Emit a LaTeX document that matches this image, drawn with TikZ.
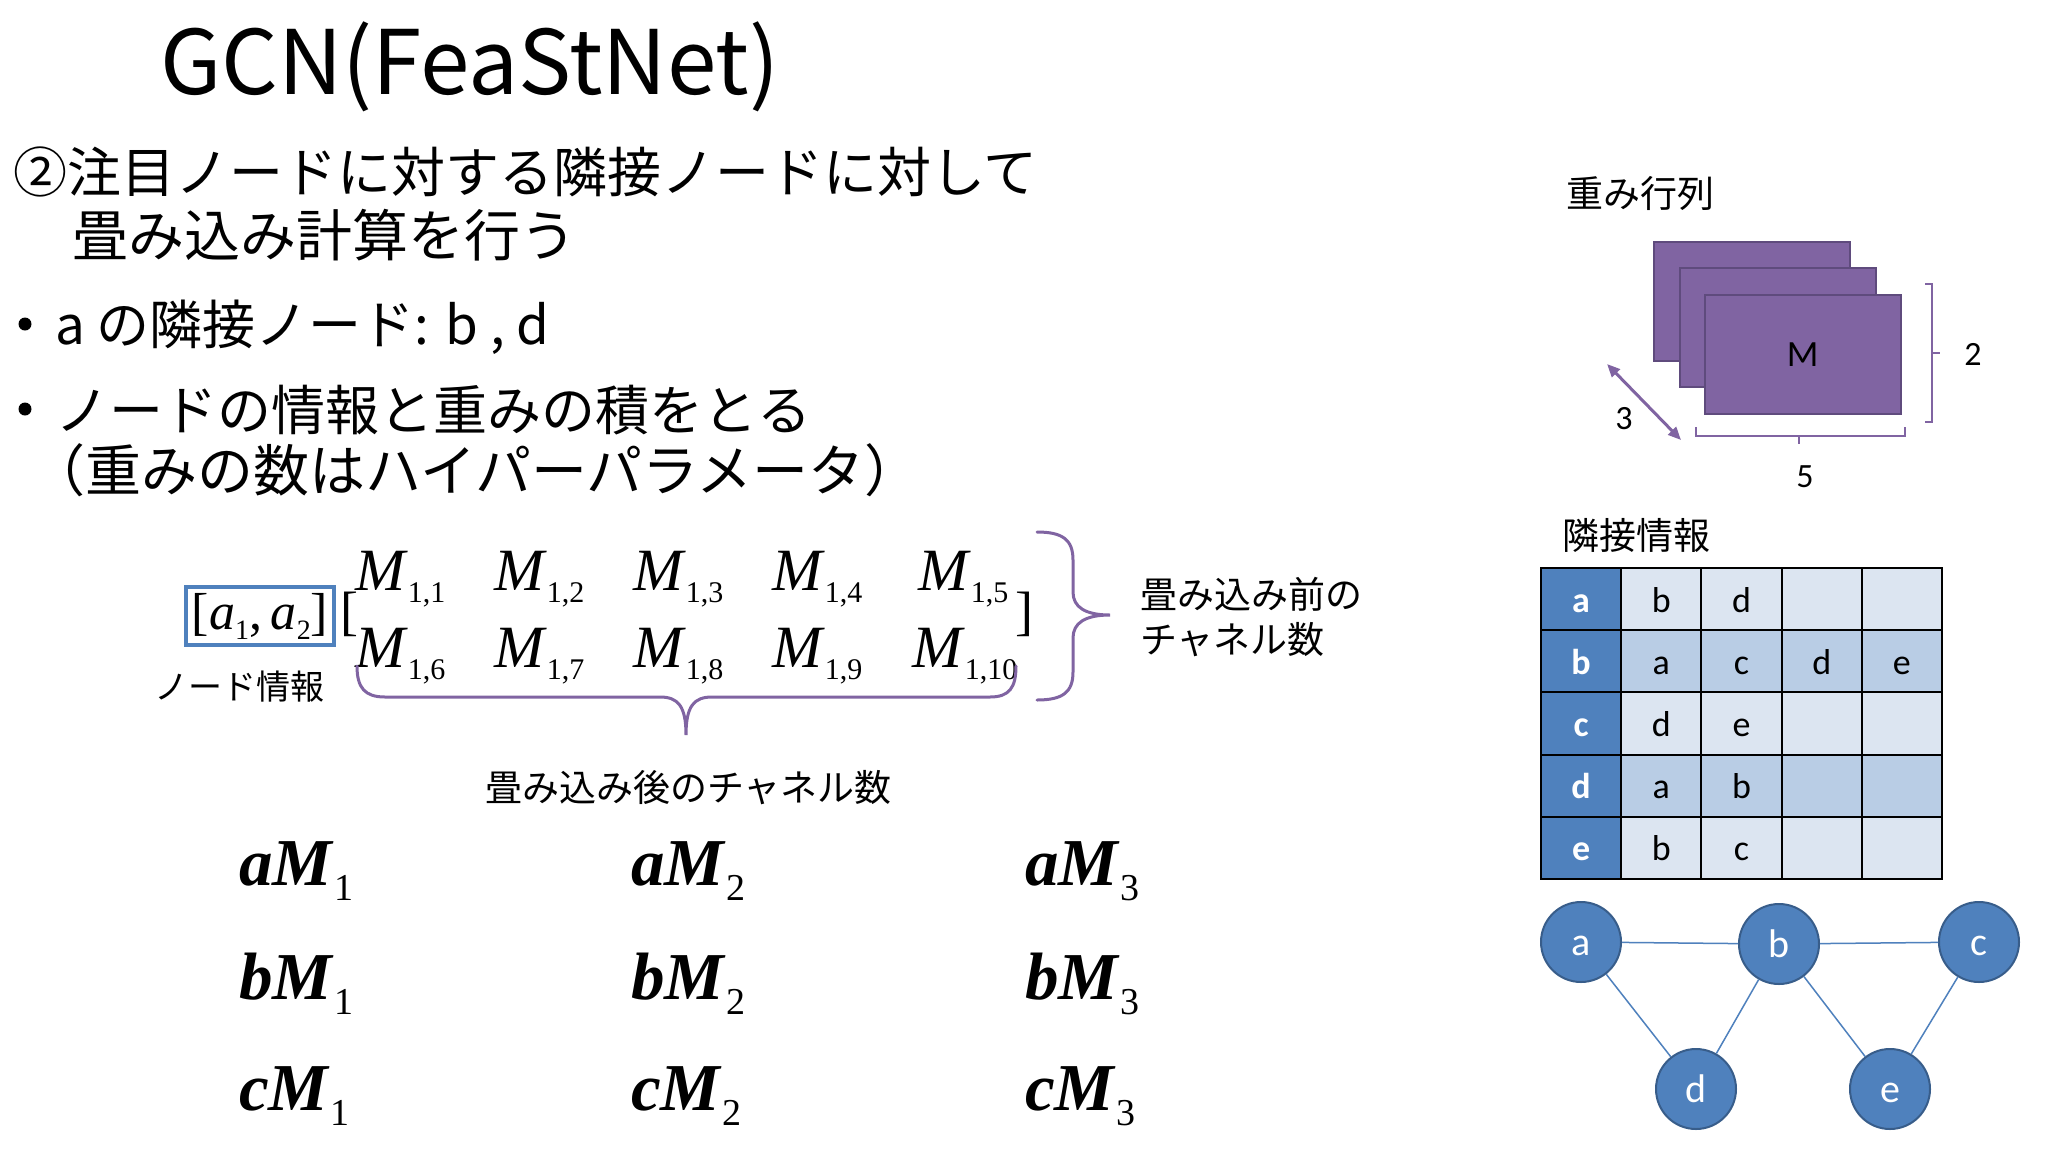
\documentclass[tikz,border=0pt]{standalone}
\usepackage{fontspec}
\setmainfont{Liberation Serif}
\newfontfamily\jp{Noto Sans CJK JP}
\newfontfamily\calib{Carlito}
\usetikzlibrary{arrows.meta}
\definecolor{hdrblue}{HTML}{4F81BD}
\definecolor{nodeedge}{HTML}{385D8A}
\definecolor{bandL}{HTML}{DCE5F1}
\definecolor{bandD}{HTML}{B9CDE5}
\definecolor{purp}{HTML}{8064A2}
\definecolor{purpdark}{HTML}{5F4B7D}
\newcommand\myfs[1]{\fontsize{#1pt}{#1pt}\selectfont}
\newcommand\Mel[1]{\textit{M}\raisebox{-12pt}{\myfs{30}#1}}
\newcommand\Prd[2]{\textbf{\textit{#1M}}\raisebox{-15pt}{\myfs{38}#2}}
\newcommand\asub[1]{\textit{a}\raisebox{-10pt}{\myfs{28}#1}}
\begin{document}
\begin{tikzpicture}[x=1pt,y=-1pt,
  jtxt/.style={inner sep=0pt, anchor=base west, font=\jp\myfs{#1}},
  jtxt/.default=56,
  mel/.style={inner sep=0pt, anchor=base west, font=\myfs{60}},
  prd/.style={inner sep=0pt, anchor=base west, font=\myfs{67}},
  brk/.style={inner sep=0pt, anchor=base west, font=\myfs{54}},
  bullet/.style={circle, fill=black, minimum size=13pt, inner sep=0pt},
  brace/.style={draw=purp, line width=3pt, line cap=round},
  cell/.style={draw=black, line width=2pt, minimum width=80.2pt, minimum height=62.2pt, inner sep=0pt, text height=26pt, text depth=0pt, font=\calib\myfs{36}},
  hcell/.style={cell, fill=hdrblue, text=white, font=\calib\bfseries\myfs{36}},
  gnode/.style={circle, fill=hdrblue, draw=nodeedge, line width=2pt, minimum size=80pt, inner sep=0pt, text=white, text height=27pt, text depth=0pt, font=\calib\myfs{40}},
  gedge/.style={draw=hdrblue, line width=1.5pt},
  plate/.style={rectangle, fill=purp, draw=purpdark, line width=1.5pt, minimum width=196pt, minimum height=119pt, anchor=north west, inner sep=0pt},
  dimlab/.style={inner sep=0pt, font=\calib\myfs{34}}
]
\useasboundingbox (0,0) rectangle (2048,1152);
\fill[white] (0,0) rectangle (2048,1152);

% title and bullet text
\node[jtxt=89] (title) at (160,94) {GCN(FeaStNet)};
\node[jtxt=54] (l1) at (13,192) {②注目ノードに対する隣接ノードに対して};
\node[jtxt=56] (l2) at (72,256) {畳み込み計算を行う};
\node[bullet] (b1) at (25,324) {};
\node[jtxt=53] (l3) at (55,344) {a の隣接ノード: b , d};
\node[bullet] (b2) at (25,409) {};
\node[jtxt=54] (l4) at (55,430) {ノードの情報と重みの積をとる};
\node[jtxt=56] (l5) at (29,491) {（重みの数はハイパーパラメータ）};

% node vector and weight matrix
\node[draw=hdrblue, line width=4pt, minimum width=148pt, minimum height=58pt, inner sep=0pt, font=\myfs{52}] (vec) at (260,616) {[\asub{1},\,\asub{2}]};
\node[jtxt=34] (veclab) at (154,699) {ノード情報};
\node[brk] (lbr) at (340,629) {[};
\node[brk] (rbr) at (1015,629) {]};
\node[mel] (m11) at (355,590) {\Mel{1,1}};
\node[mel] (m12) at (494,590) {\Mel{1,2}};
\node[mel] (m13) at (633,590) {\Mel{1,3}};
\node[mel] (m14) at (772,590) {\Mel{1,4}};
\node[mel] (m15) at (918,590) {\Mel{1,5}};
\node[mel] (m16) at (355,667) {\Mel{1,6}};
\node[mel] (m17) at (494,667) {\Mel{1,7}};
\node[mel] (m18) at (633,667) {\Mel{1,8}};
\node[mel] (m19) at (772,667) {\Mel{1,9}};
\node[mel] (m110) at (912,667) {\Mel{1,10}};

% braces
\draw[brace] (1037,532) .. controls (1063,532) and (1073,540) .. (1073,560) -- (1073,592) .. controls (1073,607) and (1085,615) .. (1110,615) .. controls (1085,615) and (1073,623) .. (1073,638) -- (1073,672) .. controls (1073,692) and (1063,700) .. (1037,700);
\node[jtxt=37] (prelab1) at (1140,608) {畳み込み前の};
\node[jtxt=37] (prelab2) at (1140,653) {チャネル数};
\draw[brace] (357,666) .. controls (357,688) and (365,697) .. (385,697) -- (660,697) .. controls (678,697) and (686,706) .. (686,735) .. controls (686,706) and (694,697) .. (712,697) -- (990,697) .. controls (1009,697) and (1016,688) .. (1016,666);
\node[jtxt=37] (postlab) at (485,801) {畳み込み後のチャネル数};

% products
\node[prd] (p11) at (239,885) {\Prd{a}{1}};
\node[prd] (p12) at (631,885) {\Prd{a}{2}};
\node[prd] (p13) at (1025,885) {\Prd{a}{3}};
\node[prd] (p21) at (239,999) {\Prd{b}{1}};
\node[prd] (p22) at (631,999) {\Prd{b}{2}};
\node[prd] (p23) at (1025,999) {\Prd{b}{3}};
\node[prd] (p31) at (239,1110) {\Prd{c}{1}};
\node[prd] (p32) at (631,1110) {\Prd{c}{2}};
\node[prd] (p33) at (1025,1110) {\Prd{c}{3}};

% weight matrix stack
\node[jtxt=37] (wlab) at (1566,207) {重み行列};
\node[plate] (r1) at (1653,241) {};
\node[plate] (r2) at (1679,267) {};
\node[plate, font=\calib\myfs{37}] (r3) at (1704,294) {M};
\coordinate (a3s) at (1607,364);
\coordinate (a3e) at (1681,440);
\draw[draw=purp, line width=3pt, {Triangle[length=13pt,width=11pt]}-{Triangle[length=13pt,width=11pt]}] (a3s) -- (a3e);
\node[dimlab] (d3) at (1624,419) {3};
\draw[draw=purp, line width=2.5pt] (1696,427) -- (1696,436) -- (1905,436) -- (1905,427);
\draw[draw=purp, line width=2.5pt] (1799,436) -- (1799,444);
\node[dimlab] (d5) at (1805,477) {5};
\draw[draw=purp, line width=2.5pt] (1925,284) -- (1932,284) -- (1932,422) -- (1925,422);
\draw[draw=purp, line width=2.5pt] (1932,353) -- (1940,353);
\node[dimlab] (d2) at (1973,354) {2};

% adjacency table
\node[jtxt=37] (alab) at (1562,549) {隣接情報};
\foreach \r/\h/\band/\A/\B/\C/\D in {0/a/bandL/b/d/{}/{}, 1/b/bandD/a/c/d/e, 2/c/bandL/d/e/{}/{}, 3/d/bandD/a/b/{}/{}, 4/e/bandL/b/c/{}/{}}{
  \pgfmathsetmacro\yc{599.1+62.2*\r}
  \node[hcell] (h\h) at (1581.1,\yc) {\h};
  \node[cell, fill=\band] (t\h1) at (1661.3,\yc) {\A};
  \node[cell, fill=\band] (t\h2) at (1741.5,\yc) {\B};
  \node[cell, fill=\band] (t\h3) at (1821.7,\yc) {\C};
  \node[cell, fill=\band] (t\h4) at (1901.9,\yc) {\D};
}

% graph
\node[gnode] (ga) at (1581,942) {a};
\node[gnode] (gb) at (1779,944) {b};
\node[gnode] (gc) at (1979,942) {c};
\node[gnode] (gd) at (1696,1089) {d};
\node[gnode] (ge) at (1890,1089) {e};
\draw[gedge] (ga) -- (gb);
\draw[gedge] (gb) -- (gc);
\draw[gedge] (ga) -- (gd);
\draw[gedge] (gb) -- (gd);
\draw[gedge] (gb) -- (ge);
\draw[gedge] (gc) -- (ge);
\end{tikzpicture}
\end{document}
